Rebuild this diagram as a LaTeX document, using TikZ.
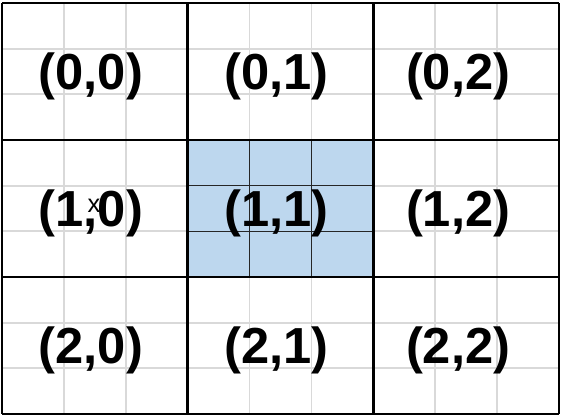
\documentclass[tikz,border=0pt]{standalone}
\usepackage{fontspec}
\setmainfont{Liberation Sans}
\usetikzlibrary{positioning}
\definecolor{Ink}{HTML}{000000}
\definecolor{GridGray}{HTML}{D9D9D9}
\definecolor{CellBlue}{HTML}{BDD7EE}
\tikzset{
  fineLine/.style={draw=GridGray,line width=1.4pt},
  fineDark/.style={draw=Ink!85,line width=1pt},
  coarseLine/.style={draw=Ink,line width=2.2pt},
  cellLabel/.style={font=\bfseries\fontsize{38}{38}\selectfont,text=Ink,inner sep=0pt},
  markLabel/.style={font=\fontsize{19}{19}\selectfont,text=Ink,inner sep=0pt}
}

\begin{document}
\begin{tikzpicture}[x=0.75pt,y=-0.75pt]
  \useasboundingbox (0,0) rectangle (561,416);
  \def\cw{185.67}
  \def\ch{137}
  % fine sub-grid
  \foreach \i in {1,2,4,5,7,8} {
    \draw[fineLine] ({2+\i*\cw/3},3) -- ({2+\i*\cw/3},414);
    \draw[fineLine] (2,{3+\i*\ch/3}) -- (559,{3+\i*\ch/3});
  }
  % centre cell
  \fill[CellBlue] ({2+\cw},{3+\ch}) rectangle ({2+2*\cw},{3+2*\ch});
  \foreach \i in {4,5} {
    \draw[fineDark] ({2+\i*\cw/3},{3+\ch}) -- ({2+\i*\cw/3},{3+2*\ch});
    \draw[fineDark] ({2+\cw},{3+\i*\ch/3}) -- ({2+2*\cw},{3+\i*\ch/3});
  }
  % coarse grid
  \foreach \i in {0,...,3} {
    \draw[coarseLine] ({2+\i*\cw},3) -- ({2+\i*\cw},414);
    \draw[coarseLine] (2,{3+\i*\ch}) -- (559,{3+\i*\ch});
  }
  % labels
  \foreach \r in {0,1,2}
    \foreach \c/\dx in {0/-4,1/-4,2/-8}
      \node[cellLabel] (cell\r\c) at ({2+(\c+0.5)*\cw+\dx},{3+(\r+0.5)*\ch+5}) {(\r,\c)};
  \node[markLabel] (mark) at (94,206) {x};
\end{tikzpicture}
\end{document}
